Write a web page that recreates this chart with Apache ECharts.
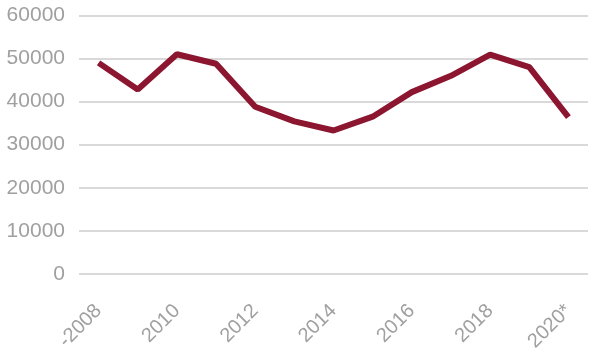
<!DOCTYPE html>
<html lang="en">
<head>
    <meta charset="UTF-8">
    <title>Chart</title>
    <script src="https://cdn.jsdelivr.net/npm/echarts@6/dist/echarts.min.js"></script>
    <style>
        body { margin: 0; background: #fff; }
    </style>
</head>
<body>
    <div id="main" style="width: 600px;height: 354px;"></div>
    <script>
        var years = ['-2008', '2009', '2010', '2011', '2012', '2013', '2014', '2015', '2016', '2017', '2018', '2019', '2020*'];
        var values = [49000, 42800, 51000, 48800, 38800, 35400, 33300, 36500, 42200, 46000, 50900, 48000, 36400];

        var myCharts = echarts.init(document.getElementById('main'));
        var option = {
            animation: false,
            grid: {
                left: 79,
                right: 12,
                top: 15.5,
                bottom: 78.5,
                containLabel: false
            },
            xAxis: {
                type: 'category',
                data: years,
                boundaryGap: true,
                axisLine: { show: false },
                axisTick: { show: false },
                axisLabel: {
                    interval: 1,
                    rotate: 45,
                    color: '#a0a0a0',
                    fontSize: 20,
                    fontFamily: 'Liberation Sans',
                    margin: 34
                }
            },
            yAxis: {
                type: 'value',
                min: 0,
                max: 60000,
                interval: 10000,
                axisLine: { show: false },
                axisTick: { show: false },
                axisLabel: {
                    color: '#a0a0a0',
                    fontSize: 21,
                    fontFamily: 'Liberation Sans',
                    margin: 14,
                    formatter: function (v) { return String(v); }
                },
                splitLine: {
                    lineStyle: { color: '#d9d9d9', width: 2 }
                }
            },
            series: [
                {
                    type: 'line',
                    data: values,
                    symbol: 'none',
                    lineStyle: { color: '#8c1530', width: 6 }
                }
            ]
        };
        myCharts.setOption(option);
    </script>
</body>
</html>
